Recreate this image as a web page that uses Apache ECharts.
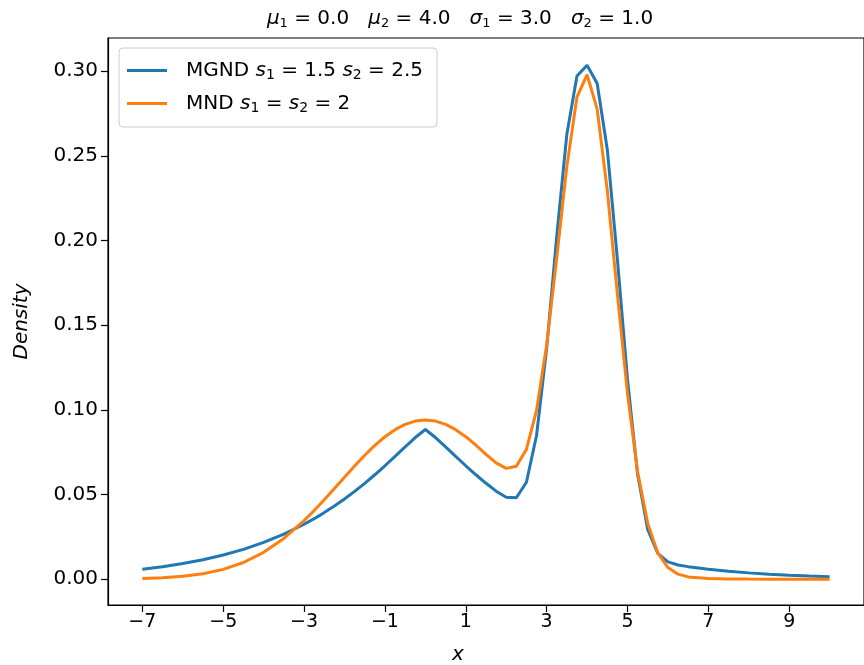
<!DOCTYPE html>
<html><head><meta charset="utf-8">
<script src="https://cdn.jsdelivr.net/npm/echarts@6/dist/echarts.min.js"></script>
<style>html,body{margin:0;padding:0;background:#fff}#c{width:864px;height:665px}</style>
</head><body><div id="c"></div>
<script>
const xValues = [-7,-6.5,-6,-5.5,-5,-4.5,-4,-3.5,-3,-2.75,-2.5,-2.25,-2,-1.75,-1.5,-1.25,-1,-0.75,-0.5,-0.25,0,0.25,0.5,0.75,1,1.25,1.5,1.75,2,2.25,2.5,2.75,3,3.25,3.5,3.75,4,4.25,4.5,4.75,5,5.25,5.5,5.75,6,6.25,6.5,7,7.5,8,8.5,9,9.5,10];
const mgndValues = [0.00595,0.00744,0.00928,0.01155,0.01431,0.01767,0.02175,0.02664,0.03247,0.03577,0.03935,0.04323,0.04740,0.05187,0.05664,0.06170,0.06701,0.07254,0.07816,0.08369,0.08840,0.08369,0.07816,0.07254,0.06701,0.06170,0.05666,0.05201,0.04838,0.04813,0.05726,0.08489,0.13614,0.20256,0.26279,0.29721,0.30355,0.29275,0.25382,0.18904,0.11798,0.06198,0.02946,0.01525,0.01027,0.00845,0.00745,0.00595,0.00474,0.00377,0.00299,0.00236,0.00186,0.00147];
const mndValues = [0.00041,0.00086,0.00172,0.00326,0.00585,0.00991,0.01589,0.02411,0.03459,0.04058,0.04696,0.05358,0.06029,0.06691,0.07323,0.07904,0.08414,0.08833,0.09145,0.09338,0.09403,0.09338,0.09145,0.08834,0.08417,0.07919,0.07377,0.06870,0.06546,0.06677,0.07669,0.09970,0.13837,0.18981,0.24380,0.28471,0.29798,0.27764,0.22960,0.16841,0.10963,0.06352,0.03299,0.01558,0.00689,0.00302,0.00140,0.00044,0.00018,0.00008,0.00003,0.00001,0.00000,0.00000];
const xTicks = [-7,-5,-3,-1,1,3,5,7,9];
const yTicks = [0,0.05,0.10,0.15,0.20,0.25,0.30];
const seriesNames = ['MGND','MND'];
const colors = ['#1f77b4','#ff7f0e'];

const FONT = 'DejaVu Sans';
const pair = (ys) => xValues.map((x,i)=>[x, ys[i]]);
const chart = echarts.init(document.getElementById('c'), null, {renderer:'canvas'});
const legendText = {
  MGND: '{s|}{t|MGND }{i|s}{b|1}{t| = 1.5 }{i|s}{b|2}{t| = 2.5}',
  MND: '{s|}{t|MND }{i|s}{b|1}{t| = }{i|s}{b|2}{t| = 2}'
};
const rich = {
  s:{width:14},
  t:{fontSize:20, fontFamily:FONT, color:'#000', lineHeight:24},
  i:{fontSize:20, fontFamily:FONT, fontStyle:'italic', color:'#000', lineHeight:24},
  b:{fontSize:14, fontFamily:FONT, color:'#000', lineHeight:24, padding:[9,0,0,0]}
};
const titleRich = {
  t:{fontSize:20, fontFamily:FONT, fontWeight:'normal', color:'#000'},
  i:{fontSize:20, fontFamily:FONT, fontWeight:'normal', fontStyle:'italic', color:'#000'},
  b:{fontSize:13, fontFamily:FONT, fontWeight:'normal', color:'#000', padding:[9,0,0,0]}
};
chart.setOption({
  animation:false,
  backgroundColor:'#fff',
  title:{
    text:'{i|μ}{b|1}{t| = 0.0   }{i|μ}{b|2}{t| = 4.0   }{i|σ}{b|1}{t| = 3.0   }{i|σ}{b|2}{t| = 1.0}',
    left:455, top:3, textAlign:'center',
    textStyle:{fontWeight:'normal', rich:titleRich}
  },
  grid:{left:108, right:-3, top:38, bottom:60, show:true, borderColor:'#000', borderWidth:1.2, backgroundColor:'transparent'},
  legend:{
    orient:'vertical', left:119, top:48,
    data:seriesNames, icon:'rect', itemWidth:40, itemHeight:3, itemGap:10,
    padding:[11,14,12,8],
    backgroundColor:'#fff', borderColor:'#cccccc', borderWidth:1, borderRadius:4,
    formatter:(n)=>legendText[n],
    textStyle:{rich:rich}
  },
  xAxis:{
    type:'value', min:-7.85, max:10.85,
    axisLine:{show:true, onZero:false, lineStyle:{color:'#000', width:1.2}},
    axisTick:{show:true, customValues:xTicks, length:7, lineStyle:{color:'#000', width:1.2}},
    axisLabel:{customValues:xTicks, margin:8, color:'#000', fontSize:19, fontFamily:FONT,
      formatter:(v)=> (v<0?'\u2212':'')+Math.abs(v)},
    splitLine:{show:false}
  },
  yAxis:{
    type:'value', min:-0.0152, max:0.3196,
    name:'Density', nameLocation:'middle', nameGap:76, nameRotate:90,
    nameTextStyle:{fontSize:20, fontFamily:FONT, fontStyle:'italic', color:'#000'},
    axisLine:{show:true, onZero:false, lineStyle:{color:'#000', width:1.2}},
    axisTick:{show:true, customValues:yTicks, length:7, lineStyle:{color:'#000', width:1.2}},
    axisLabel:{customValues:yTicks, margin:10, color:'#000', fontSize:20, fontFamily:FONT,
      formatter:(v)=> v.toFixed(2)},
    splitLine:{show:false}
  },
  graphic:[{type:'text', x:458, y:655, style:{text:'x', font:'italic 20px "DejaVu Sans"', fill:'#000', textAlign:'center', textVerticalAlign:'middle'}}],
  series:[
    {name:seriesNames[0], type:'line', data:pair(mgndValues), showSymbol:false, symbol:'none', lineStyle:{color:colors[0], width:3}, itemStyle:{color:colors[0]}, z:2},
    {name:seriesNames[1], type:'line', data:pair(mndValues), showSymbol:false, symbol:'none', lineStyle:{color:colors[1], width:3}, itemStyle:{color:colors[1]}, z:3}
  ]
});
</script></body></html>
